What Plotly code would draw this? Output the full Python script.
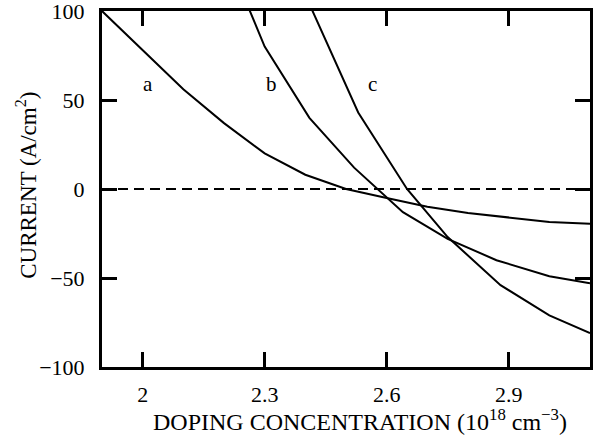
import plotly.graph_objects as go

# Data
x_a = [1.9, 2.0, 2.1, 2.2, 2.3, 2.4, 2.5, 2.6, 2.7, 2.8, 2.9, 3.0, 3.1]
y_a = [100, 78, 56, 37, 20, 8, 0, -5, -10, -13.5, -16, -18.5, -19.5]

x_b = [2.2, 2.3, 2.41, 2.52, 2.64, 2.75, 2.87, 3.0, 3.1]
y_b = [135, 80, 40, 12, -13, -28, -40, -49, -53]

x_c = [2.4, 2.53, 2.65, 2.75, 2.88, 3.0, 3.1]
y_c = [109, 43, 0, -27, -54, -71, -81]

curve_labels = ["a", "b", "c"]
label_x = [2.013, 2.316, 2.565]
label_y = [59, 59, 59]

x_ticks = [2.0, 2.3, 2.6, 2.9]
x_ticktext = ["2", "2.3", "2.6", "2.9"]
y_ticks = [-100, -50, 0, 50, 100]

x_title = "DOPING CONCENTRATION (10<sup>18</sup> cm<sup>−3</sup>)"
y_title = "CURRENT (A/cm<sup>2</sup>)"

FONT = "Liberation Serif"

fig = go.Figure()
for xs, ys in [(x_a, y_a), (x_b, y_b), (x_c, y_c)]:
    fig.add_trace(go.Scatter(x=xs, y=ys, mode="lines",
                             line=dict(color="black", width=2),
                             showlegend=False, hoverinfo="skip"))

fig.add_shape(type="line", xref="paper", x0=0, x1=1, yref="y", y0=0, y1=0,
              line=dict(color="black", width=2, dash="10px,6px"), layer="below")

for t, lx, ly in zip(curve_labels, label_x, label_y):
    fig.add_annotation(x=lx, y=ly, text=t, showarrow=False,
                       font=dict(family=FONT, size=21, color="black"))

# axis titles as annotations for exact placement
fig.add_annotation(xref="paper", yref="paper", x=0.529, y=-0.102, xanchor="center", yanchor="top",
                   text=x_title, showarrow=False,
                   font=dict(family=FONT, size=24, color="black"))
fig.add_annotation(xref="paper", yref="paper", x=-0.155, y=0.51, xanchor="center", yanchor="middle",
                   text=y_title, textangle=-90, showarrow=False,
                   font=dict(family=FONT, size=23, color="black"))

def axis_common():
    return dict(showline=True, linewidth=3, linecolor="black", mirror="allticks",
                ticks="inside", ticklen=15, tickwidth=3, tickcolor="black",
                showgrid=False, zeroline=False, automargin=False,
                ticklabeloverflow="allow",
                tickfont=dict(family=FONT, size=22, color="black"))

fig.update_xaxes(range=[1.9, 3.1], tickvals=x_ticks, ticktext=x_ticktext,
                 ticklabelstandoff=6, **axis_common())
fig.update_yaxes(range=[-100, 100], tickvals=y_ticks,
                 ticklabelstandoff=10, **axis_common())

fig.update_layout(width=597, height=436, plot_bgcolor="white", paper_bgcolor="white",
                  font=dict(family=FONT, color="black"),
                  margin=dict(l=102, r=7, t=11, b=69, autoexpand=False))

fig.write_html("out.html", config={"displayModeBar": False},
               post_script="document.body.style.margin='0';document.body.style.overflow='hidden';")
